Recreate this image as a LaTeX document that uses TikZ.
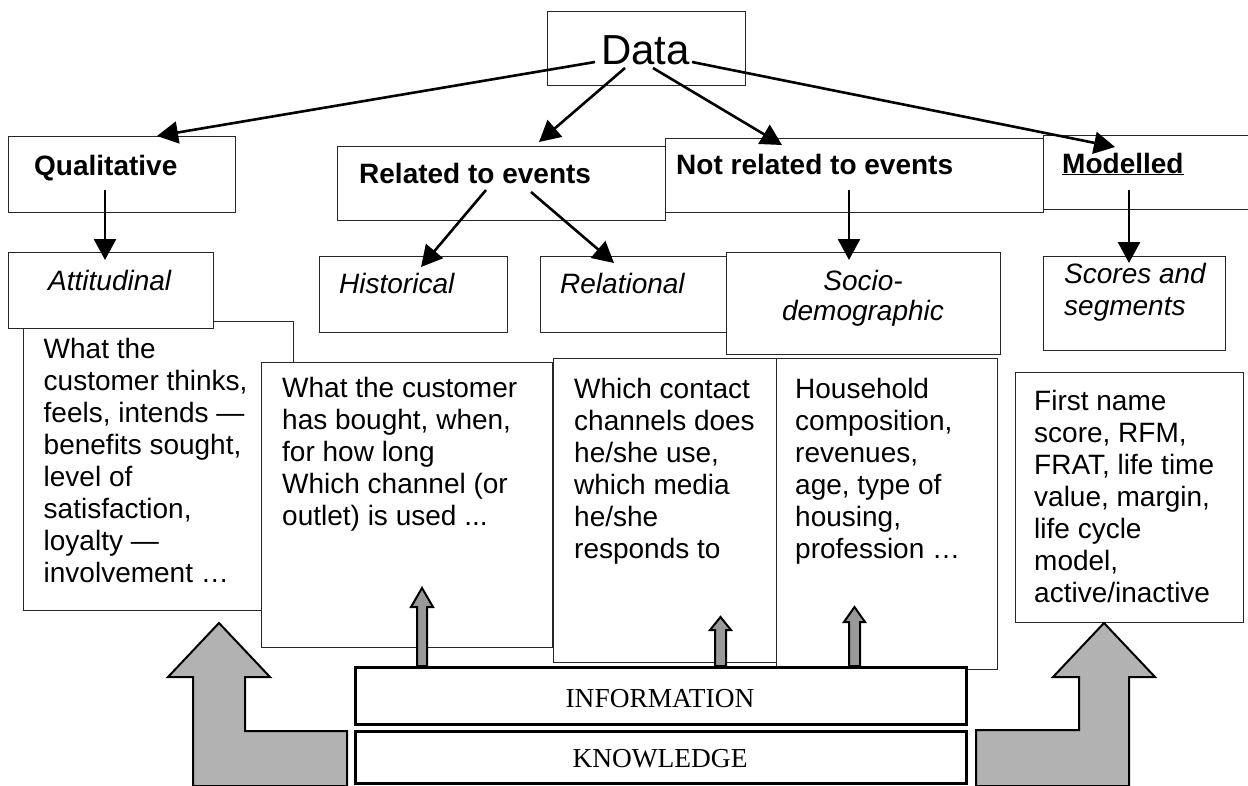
\documentclass[tikz,border=0pt]{standalone}
\usepackage{fontspec}
\setmainfont{Liberation Sans}
\newfontfamily\timesrm{Liberation Serif}
\usetikzlibrary{arrows.meta}

\tikzset{
  box/.style={draw=black!85, line width=1.3pt, fill=white, inner sep=0pt, anchor=north west},
  thickbox/.style={draw=black, line width=3.2pt, fill=white, inner sep=0pt, anchor=north west},
  txt/.style={inner sep=0pt, anchor=base west, font=\fontsize{28}{32}\selectfont},
  headtxt/.style={txt, font=\fontsize{28}{32}\selectfont\bfseries},
  subtxt/.style={txt, font=\fontsize{28}{32}\selectfont\itshape},
  layertxt/.style={inner sep=0pt, anchor=base, font=\fontsize{27.4}{32}\selectfont\timesrm},
  conn/.style={line width=2.6pt, -{Triangle[length=21pt,width=22pt]}},
  bigarrow/.style={draw=black, line width=2pt, fill=black!30, line join=miter},
  smallarrow/.style={draw=black, line width=2pt, fill=black!40, line join=miter}
}

% text block: first line sits on the node's baseline
\newcommand{\para}[2]{\parbox[t]{#1}{\raggedright #2}}

\begin{document}
\begin{tikzpicture}[x=1pt,y=-1pt]
\useasboundingbox (0,0) rectangle (1248,785);
\clip (0,0) rectangle (1248,785);

% ---------- first level ----------
\node[box, minimum width=328pt, minimum height=74pt] (related) at (337,146) {};
\node[box, minimum width=378pt, minimum height=74pt] (notrel) at (665,138) {};
\node[box, minimum width=240pt, minimum height=74pt] (model) at (1043,135) {};
\node[box, minimum width=227pt, minimum height=76pt] (qual) at (8,136) {};
\node[box, minimum width=198pt, minimum height=74pt] (data) at (547,11) {};

\node[txt, font=\fontsize{42}{48}\selectfont] (t-data) at (601,64) {Data};
\node[headtxt] (t-qual) at (34,175) {Qualitative};
\node[headtxt] (t-related) at (359,183) {Related to events};
\node[headtxt] (t-notrel) at (676,174) {Not related to events};
\node[headtxt] (t-model) at (1062,173) {\underline{Modelled}};

% ---------- second level ----------
\node[box, minimum width=270pt, minimum height=289pt] (b-att) at (23,321) {};
\node[box, minimum width=205pt, minimum height=76pt] (att) at (8,252) {};
\node[box, minimum width=188pt, minimum height=76pt] (hist) at (319,256) {};
\node[box, minimum width=200pt, minimum height=76pt] (rel) at (540,256) {};
\node[box, minimum width=274pt, minimum height=102pt] (socio) at (726,252) {};
\node[box, minimum width=182pt, minimum height=94pt] (scores) at (1043,256) {};

\node[subtxt] (t-att) at (48,290) {Attitudinal};
\node[subtxt] (t-hist) at (339,293) {Historical};
\node[subtxt] (t-rel) at (560,293) {Relational};
\node[subtxt, anchor=base] (t-socio1) at (863,290) {Socio-};
\node[subtxt, anchor=base] (t-socio2) at (863,320) {demographic};
\node[subtxt] (t-scores) at (1064,283) {\para{170pt}{Scores and\\segments}};

% ---------- description boxes ----------
\node[box, minimum width=291pt, minimum height=285pt] (b-hist) at (261,362) {};
\node[box, minimum width=223pt, minimum height=304pt] (b-rel) at (553,358) {};
\node[box, minimum width=221pt, minimum height=311pt] (b-socio) at (776,358) {};
\node[box, minimum width=228pt, minimum height=250pt] (b-scores) at (1015,372) {};

\node[txt] (d-att) at (43.5,358) {\para{250pt}{What the\\customer thinks,\\feels, intends ---\\benefits sought,\\level of\\satisfaction,\\loyalty ---\\involvement \dots}};
\node[txt] (d-hist) at (282,397) {\para{270pt}{What the customer\\has bought, when,\\for how long\\Which channel (or\\outlet) is used ...}};
\node[txt] (d-rel) at (574,398) {\para{200pt}{Which contact\\channels does\\he/she use,\\which media\\he/she\\responds to}};
\node[txt] (d-socio) at (795,398) {\para{200pt}{Household\\composition,\\revenues,\\age, type of\\housing,\\profession \dots}};
\node[txt] (d-scores) at (1034,410) {\para{205pt}{First name\\score, RFM,\\FRAT, life time\\value, margin,\\life cycle\\model,\\active/inactive}};

% ---------- connectors ----------
\coordinate (q-from) at (595,62);   \coordinate (q-to) at (157,136);
\coordinate (r-from) at (625,68);   \coordinate (r-to) at (539,142);
\coordinate (n-from) at (653,68);   \coordinate (n-to) at (782,145);
\coordinate (m-from) at (692,62);   \coordinate (m-to) at (1115,147);
\draw[conn] (q-from) -- (q-to);
\draw[conn] (r-from) -- (r-to);
\draw[conn] (n-from) -- (n-to);
\draw[conn] (m-from) -- (m-to);

\coordinate (qa-from) at (105,190); \coordinate (qa-to) at (105,260);
\coordinate (rh-from) at (486,190); \coordinate (rh-to) at (421,267);
\coordinate (rr-from) at (531,192); \coordinate (rr-to) at (614,263);
\coordinate (ns-from) at (849,190); \coordinate (ns-to) at (849,260);
\coordinate (ms-from) at (1129,190); \coordinate (ms-to) at (1129,263);
\draw[conn] (qa-from) -- (qa-to);
\draw[conn] (rh-from) -- (rh-to);
\draw[conn] (rr-from) -- (rr-to);
\draw[conn] (ns-from) -- (ns-to);
\draw[conn] (ms-from) -- (ms-to);

% ---------- large L-shaped arrows ----------
\draw[bigarrow] (193,786) -- (193,677) -- (168,677) -- (219,623) -- (270,677)
  -- (245,677) -- (245,731) -- (347,731) -- (347,786) -- cycle;
\draw[bigarrow] (976,786) -- (976,730) -- (1079,730) -- (1079,677) -- (1053,677)
  -- (1104,623) -- (1155,677) -- (1129,677) -- (1129,786) -- cycle;

% ---------- small up arrows ----------
\draw[smallarrow] (417,666) -- (417,607) -- (411,607) -- (422,588) -- (433,607)
  -- (427,607) -- (427,666) -- cycle;
\draw[smallarrow] (715,666) -- (715,630) -- (710,630) -- (720.5,617) -- (731,630)
  -- (726,630) -- (726,666) -- cycle;
\draw[smallarrow] (849,666) -- (849,622) -- (844,622) -- (854.5,607) -- (865,622)
  -- (860,622) -- (860,666) -- cycle;

% ---------- information / knowledge layers ----------
\node[thickbox, minimum width=611pt, minimum height=57pt] (info) at (354,666) {};
\node[thickbox, minimum width=611pt, minimum height=52pt] (know) at (354,730) {};
\node[layertxt] (t-info) at (660,707) {INFORMATION};
\node[layertxt] (t-know) at (660,767) {KNOWLEDGE};
\end{tikzpicture}
\end{document}
